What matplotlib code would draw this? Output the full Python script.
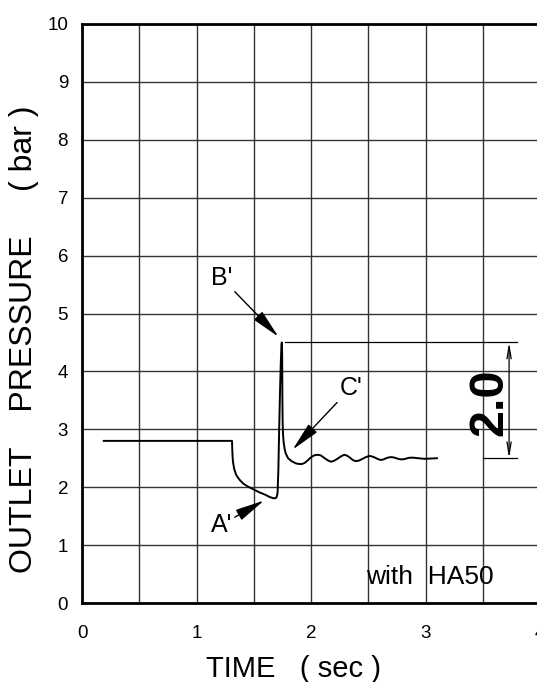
import matplotlib
matplotlib.use("Agg")
import matplotlib.pyplot as plt

plt.rcParams['font.family'] = ['Liberation Sans', 'DejaVu Sans']

# data
time_s = [0.19, 1.31, 1.313, 1.316, 1.32, 1.33, 1.345, 1.36, 1.38, 1.41, 1.45, 1.50,
          1.55, 1.60, 1.64, 1.67, 1.69, 1.70, 1.708, 1.715, 1.722, 1.73, 1.737, 1.742,
          1.745, 1.748, 1.75, 1.752, 1.756, 1.762, 1.77, 1.78, 1.80, 1.83, 1.87, 1.90,
          1.92, 1.945, 1.97, 1.99, 2.01, 2.035, 2.06, 2.085, 2.12, 2.15, 2.175, 2.20,
          2.23, 2.26, 2.29, 2.315, 2.34, 2.365, 2.39, 2.42, 2.45, 2.48, 2.51, 2.535,
          2.56, 2.585, 2.61, 2.635, 2.655, 2.68, 2.70, 2.72, 2.745, 2.77, 2.79, 2.815,
          2.84, 2.865, 2.89, 2.915, 2.94, 2.99, 3.10]
pressure_bar = [2.80, 2.80, 2.62, 2.50, 2.42, 2.31, 2.22, 2.17, 2.12, 2.06, 2.01, 1.96,
                1.91, 1.87, 1.83, 1.81, 1.81, 1.83, 1.90, 2.30, 3.00, 3.70, 4.20, 4.45,
                4.50, 4.30, 3.60, 3.15, 2.90, 2.76, 2.66, 2.58, 2.50, 2.45, 2.41, 2.40,
                2.40, 2.42, 2.46, 2.50, 2.53, 2.555, 2.56, 2.55, 2.50, 2.46, 2.44, 2.455,
                2.49, 2.53, 2.56, 2.545, 2.51, 2.47, 2.45, 2.46, 2.49, 2.52, 2.54, 2.53,
                2.51, 2.485, 2.47, 2.48, 2.50, 2.515, 2.52, 2.515, 2.50, 2.485, 2.48, 2.485,
                2.50, 2.51, 2.51, 2.505, 2.50, 2.49, 2.50]

x_ticks = [0, 1, 2, 3, 4]
y_ticks = [0, 1, 2, 3, 4, 5, 6, 7, 8, 9, 10]
x_grid = [0.5, 1.5, 2.5, 3.5]

peak_val = 4.5
settle_val = 2.5
diff_label = "2.0"

fig = plt.figure(figsize=(5.37, 6.82), dpi=100)
ax = fig.add_axes([82/537, 79/682, 458/537, 579/682])

ax.plot(time_s, pressure_bar, color='black', lw=1.4)

ax.set_xlim(0, 4)
ax.set_ylim(0, 10)
ax.set_xticks(x_ticks)
ax.set_xticklabels([str(v) for v in x_ticks])
ax.set_xticks(x_grid, minor=True)
ax.set_yticks(y_ticks)
ax.set_yticklabels([str(v) for v in y_ticks])
ax.tick_params(axis='both', which='both', length=0, labelsize=13.5)
ax.tick_params(axis='x', pad=16)
ax.tick_params(axis='y', pad=10)
ax.grid(True, which='both', color='#333333', lw=1.0)
ax.set_axisbelow(True)
for s in ['left', 'bottom', 'top']:
    ax.spines[s].set_linewidth(2.0)
ax.spines['right'].set_visible(False)

ax.set_xlabel("TIME   ( sec )", fontsize=21)
ax.xaxis.set_label_coords((294 - 82) / 458, -0.09)
ax.set_ylabel("OUTLET    PRESSURE     ( bar )", fontsize=23)
ax.yaxis.set_label_coords((39 - 82) / 458, 0.455)

arrow_kw = dict(arrowstyle='-|>,head_length=1.0,head_width=0.2', color='black',
                lw=1.0, shrinkA=0, shrinkB=0)
ax.annotate("B'", xy=(1.715, 4.6), xytext=(1.31, 5.41), fontsize=18,
            ha='right', va='bottom', arrowprops=arrow_kw)
ax.annotate("C'", xy=(1.84, 2.65), xytext=(2.25, 3.51), fontsize=18,
            ha='left', va='bottom', arrowprops=arrow_kw)
ax.annotate("A'", xy=(1.59, 1.77), xytext=(1.31, 1.35), fontsize=18,
            ha='right', va='center', arrowprops=arrow_kw)

# dimension lines
ax.plot([1.77, 3.80], [peak_val, peak_val], color='black', lw=0.9)
ax.plot([3.50, 3.80], [settle_val, settle_val], color='black', lw=0.9)
ax.annotate("", xy=(3.73, peak_val), xytext=(3.73, settle_val),
            arrowprops=dict(arrowstyle='<->,head_length=0.9,head_width=0.15',
                            color='black', lw=0.9, shrinkA=0, shrinkB=0))
ax.text(3.56, 3.47, diff_label, rotation=90, fontsize=35, fontweight='bold',
        ha='center', va='center')

ax.text(2.48, 0.45, "with  HA50", fontsize=19, ha='left', va='center')

fig.savefig("out.png", dpi=100)
